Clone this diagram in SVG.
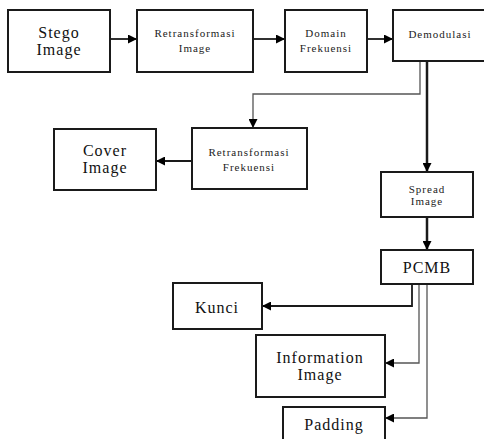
<svg xmlns="http://www.w3.org/2000/svg" width="484" height="439" viewBox="0 0 484 439">
<style>
.box{fill:#fff;stroke:#1a1a1a;stroke-width:2}
.big{font-family:'Liberation Serif',serif;font-size:16px;letter-spacing:1px;fill:#111;text-anchor:middle}
.sm{font-family:'Liberation Serif',serif;font-size:11px;letter-spacing:1px;fill:#222;text-anchor:middle}
.c{fill:none;stroke:#1a1a1a;stroke-width:1.8}
.thin{fill:none;stroke:#555;stroke-width:1.3}
.thick{fill:none;stroke:#1a1a1a;stroke-width:2.5}
</style>
<defs>
<marker id="ah" viewBox="0 0 10 10" refX="10" refY="5" markerWidth="9" markerHeight="9" markerUnits="userSpaceOnUse" orient="auto">
<path d="M0,0 L10,5 L0,10 z" fill="#000"/>
</marker>
</defs>
<rect width="484" height="439" fill="#fff"/>
<g id="connectors">
<line class="c" x1="110" y1="39" x2="137" y2="39" marker-end="url(#ah)"/>
<line class="c" x1="253" y1="39" x2="285" y2="39" marker-end="url(#ah)"/>
<line class="c" x1="367" y1="39" x2="393" y2="39" marker-end="url(#ah)"/>
<polyline class="thin" points="420,61 420,94 253,94 253,128" marker-end="url(#ah)"/>
<line class="thick" x1="427" y1="61" x2="427" y2="172" marker-end="url(#ah)"/>
<line class="c" x1="192" y1="161" x2="156" y2="161" marker-end="url(#ah)"/>
<line class="thick" x1="427" y1="217" x2="427" y2="250" marker-end="url(#ah)"/>
<polyline class="c" points="412,284 412,306 262,306" marker-end="url(#ah)"/>
<polyline class="thin" points="419,284 419,363 385,363" marker-end="url(#ah)"/>
<polyline class="thin" points="427,284 427,418 385,418" marker-end="url(#ah)"/>
</g>
<g id="stego">
<rect class="box" x="8" y="10" width="102" height="62"/>
<text class="big" x="59" y="38">Stego</text>
<text class="big" x="59" y="55">Image</text>
</g>
<g id="retrans-image">
<rect class="box" x="137" y="10" width="116" height="62"/>
<text class="sm" x="195" y="37">Retransformasi</text>
<text class="sm" x="195" y="52">Image</text>
</g>
<g id="domain">
<rect class="box" x="285" y="10" width="82" height="62"/>
<text class="sm" x="326" y="37">Domain</text>
<text class="sm" x="326" y="52">Frekuensi</text>
</g>
<g id="demodulasi">
<rect class="box" x="393" y="10" width="100" height="51"/>
<text class="sm" x="440" y="38">Demodulasi</text>
</g>
<g id="retrans-frek">
<rect class="box" x="192" y="128" width="115" height="61"/>
<text class="sm" x="249" y="156">Retransformasi</text>
<text class="sm" x="249" y="171">Frekuensi</text>
</g>
<g id="cover">
<rect class="box" x="54" y="129" width="102" height="61"/>
<text class="big" x="105" y="156">Cover</text>
<text class="big" x="105" y="173">Image</text>
</g>
<g id="spread">
<rect class="box" x="381" y="172" width="92" height="45"/>
<text class="sm" x="427" y="193">Spread</text>
<text class="sm" x="427" y="205">Image</text>
</g>
<g id="pcmb">
<rect class="box" x="381" y="250" width="92" height="34"/>
<text class="big" x="427" y="273">PCMB</text>
</g>
<g id="kunci">
<rect class="box" x="173" y="283" width="89" height="46"/>
<text class="big" x="217" y="313">Kunci</text>
</g>
<g id="information">
<rect class="box" x="256" y="335" width="129" height="62"/>
<text class="big" x="320" y="363">Information</text>
<text class="big" x="320" y="380">Image</text>
</g>
<g id="padding">
<rect class="box" x="283" y="407" width="102" height="40"/>
<text class="big" x="334" y="430">Padding</text>
</g>
</svg>
